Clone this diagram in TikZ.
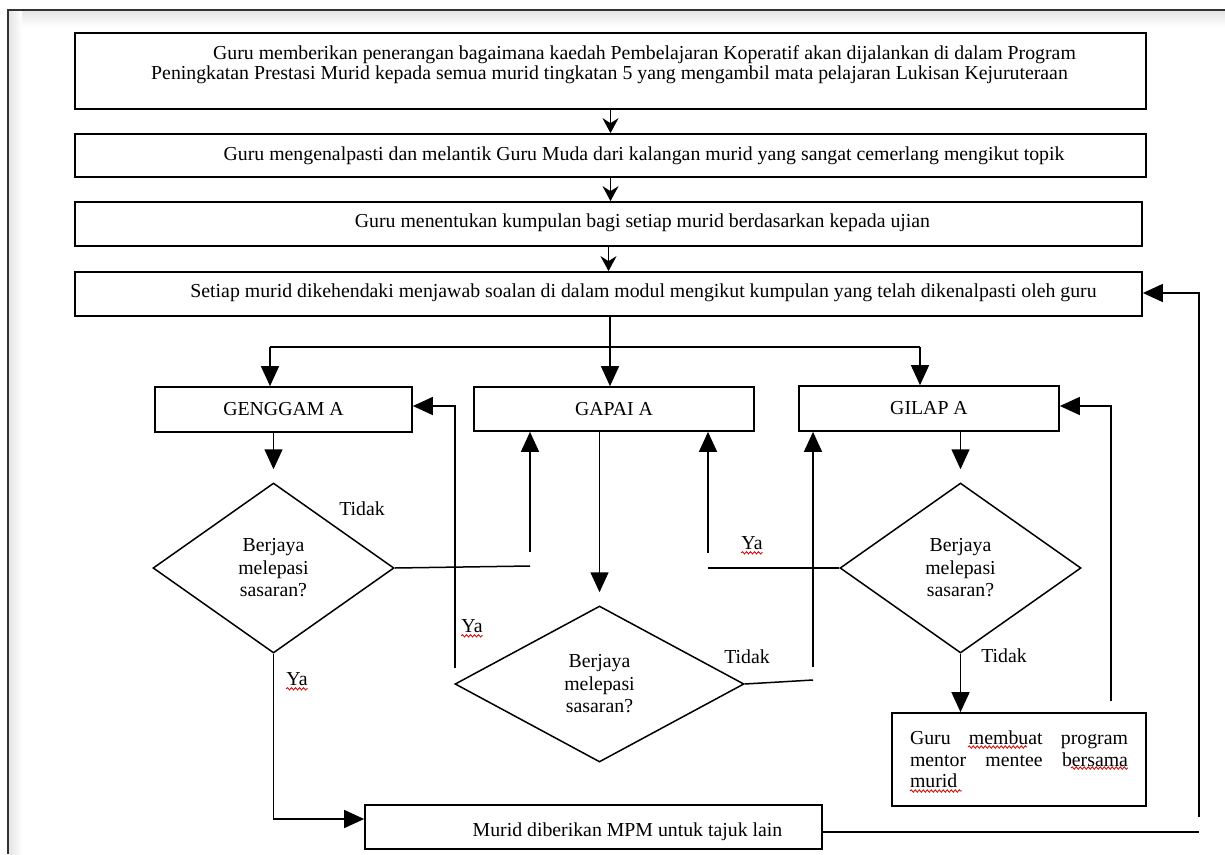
\documentclass[tikz,border=0pt]{standalone}
\usepackage{fontspec}
\setmainfont{Liberation Serif}
\usetikzlibrary{arrows.meta,shapes.geometric,calc,decorations.pathmorphing}
\newcommand{\bodyfont}{\fontsize{19.8pt}{20pt}\selectfont}
\begin{document}
\begin{tikzpicture}[x=1pt,y=-1pt,
  every node/.style={font=\bodyfont, inner sep=0pt},
  box/.style={draw=black, line width=1.7pt, rectangle, align=center},
  dia/.style={draw=black, line width=1.5pt, diamond, align=center,
    font=\fontsize{19.8pt}{22.5pt}\selectfont},
  link/.style={line width=1.5pt, black},
  arr/.style={link, -{Triangle[length=20pt,width=18pt]}},
  starr/.style={link, -{Stealth[length=15pt,width=16pt,inset=5pt]}},
  squig/.style={draw=red!85!black, line width=0.8pt, decorate,
    decoration={snake, amplitude=1.2pt, segment length=4pt}}]

\useasboundingbox (0,0) rectangle (1225,854);

% page frame with its soft inner shadow
\shade[top color=black!10, bottom color=white] (9,11) rectangle (1225,27);
\shade[left color=black!10, right color=white] (9,11) rectangle (22,854);
\draw[line width=2pt, black!80] (8,854) -- (8,10) -- (1225,10);

% main sequence of steps
\node[box, minimum width=1071pt, minimum height=76pt] (b1) at (610.5,71) {};
\node[anchor=west, align=left, font=\fontsize{19.8pt}{20pt}\selectfont] (t1) at (151,65)
  {\hspace*{62pt}Guru memberikan penerangan bagaimana kaedah Pembelajaran Koperatif akan dijalankan di dalam Program\\
   Peningkatan Prestasi Murid kepada semua murid tingkatan 5 yang mengambil mata pelajaran Lukisan Kejuruteraan};

\node[box, minimum width=1071pt, minimum height=43pt] (b2) at (610.5,155.5) {};
\node (t2) at (644,156) {Guru mengenalpasti dan melantik Guru Muda dari kalangan murid yang sangat cemerlang mengikut topik};

\node[box, minimum width=1067pt, minimum height=44pt] (b3) at (608.5,224) {};
\node (t3) at (642.5,223) {Guru menentukan kumpulan bagi setiap murid berdasarkan kepada ujian};

\node[box, minimum width=1067pt, minimum height=44pt] (b4) at (608.5,294) {};
\node (t4) at (643.5,293) {Setiap murid dikehendaki menjawab soalan di dalam modul mengikut kumpulan yang telah dikenalpasti oleh guru};

% the three groups
\node[box, minimum width=257pt, minimum height=45pt] (gg) at (283.5,409.5) {GENGGAM A};
\node[box, minimum width=280pt, minimum height=44pt] (ga) at (614,409) {GAPAI A};
\node[box, minimum width=260pt, minimum height=45pt] (gl) at (929,408.5) {GILAP A};

% decisions
\node[dia, minimum width=241pt, minimum height=170pt] (d1) at (273.5,568) {Berjaya\\melepasi\\sasaran?};
\node[dia, minimum width=289pt, minimum height=156pt] (d2) at (599.5,684) {Berjaya\\melepasi\\sasaran?};
\node[dia, minimum width=241pt, minimum height=170pt] (d3) at (960.5,568) {Berjaya\\melepasi\\sasaran?};

% mentoring and follow-up boxes
\node[box, minimum width=254pt, minimum height=93pt, text width=218pt, align=justify,
  font=\fontsize{19.8pt}{21.5pt}\selectfont] (guru) at (1019,759.5)
  {\tolerance=9999 \hyphenpenalty=10000 \emergencystretch=30pt Guru membuat program mentor mentee bersama murid};
\node[box, minimum width=457pt, minimum height=44pt] (mpm) at (593.5,827) {};
\node (t5) at (627.5,832) {Murid diberikan MPM untuk tajuk lain};

% branch labels
\node (l1) at (362,509) {Tidak};
\node (l2) at (297,679) {Ya};
\node (l3) at (472,626) {Ya};
\node (l4) at (747,657) {Tidak};
\node (l5) at (752,543) {Ya};
\node (l6) at (1004,656) {Tidak};

% spelling marks under Malay words
\draw[squig] ($(l2.south west)+(0,3)$) -- ($(l2.south east)+(0,3)$);
\draw[squig] ($(l3.south west)+(0,3)$) -- ($(l3.south east)+(0,3)$);
\draw[squig] ($(l5.south west)+(0,3)$) -- ($(l5.south east)+(0,3)$);
\draw[squig] (968,747) -- (1027,747);
\draw[squig] (1071,768) -- (1128,768);
\draw[squig] (910,791) -- (962,791);

% top chain
\draw[starr] (b1.south) -- (b1.south |- b2.north);
\draw[starr] (b2.south) -- (b2.south |- b3.north);
\draw[starr] (b3.south) -- (b3.south |- b4.north);

% split into the three groups
\coordinate (split) at (610,347);
\coordinate (sL) at (270,347);
\coordinate (sR) at (920,347);
\draw[link] (b4.south -| split) -- (split);
\draw[link] (sL) -- (sR);
\draw[arr] (sL) -- (sL |- gg.north);
\draw[arr] (split) -- (split |- ga.north);
\draw[arr] (sR) -- (sR |- gl.north);

% group to decision
\draw[arr, shorten >=13pt] (d1.north |- gg.south) -- (d1.north);
\draw[arr, shorten >=13pt] (d2.north |- ga.south) -- (d2.north);
\draw[arr, shorten >=13pt] (d3.north |- gl.south) -- (d3.north);

% GENGGAM decision: Tidak goes to GAPAI
\coordinate (c1) at (530,566);
\coordinate (c1u) at (530,552);
\draw[link] (d1.east) -- (c1);
\draw[arr] (c1u) -- (c1u |- ga.south);

% GAPAI decision: Ya goes back to GENGGAM
\coordinate (c2) at (455,668);
\coordinate (c2t) at (455,406);
\draw[arr] (c2) -- (c2t) -- (c2t -| gg.east);

% GAPAI decision: Tidak goes to GILAP
\coordinate (c3) at (813,680);
\coordinate (c3u) at (813,667);
\draw[link] (d2.east) -- (c3);
\draw[arr] (c3u) -- (c3u |- gl.south);

% GILAP decision: Ya goes to GAPAI
\coordinate (c4) at (708,568);
\coordinate (c4u) at (708,553);
\draw[link] (d3.west) -- (c4);
\draw[arr] (c4u) -- (c4u |- ga.south);

% GILAP decision: Tidak goes to mentoring
\draw[arr] (d3.south) -- (d3.south |- guru.north);

% mentoring back to GILAP
\coordinate (c5) at (1111,701);
\coordinate (c5t) at (1111,406);
\draw[arr] (c5) -- (c5t) -- (c5t -| gl.east);

% GENGGAM decision: Ya goes to MPM
\draw[arr] (d1.south) |- ($(mpm.west)+(0,-8)$);

% MPM loops back to the module step
\coordinate (c7) at (1199,832);
\draw[link] (c7 -| mpm.east) -- (c7);
\coordinate (c8) at (1199,817);
\coordinate (c8t) at (1199,293);
\draw[arr] (c8) -- (c8t) -- (c8t -| b4.east);

\end{tikzpicture}
\end{document}
